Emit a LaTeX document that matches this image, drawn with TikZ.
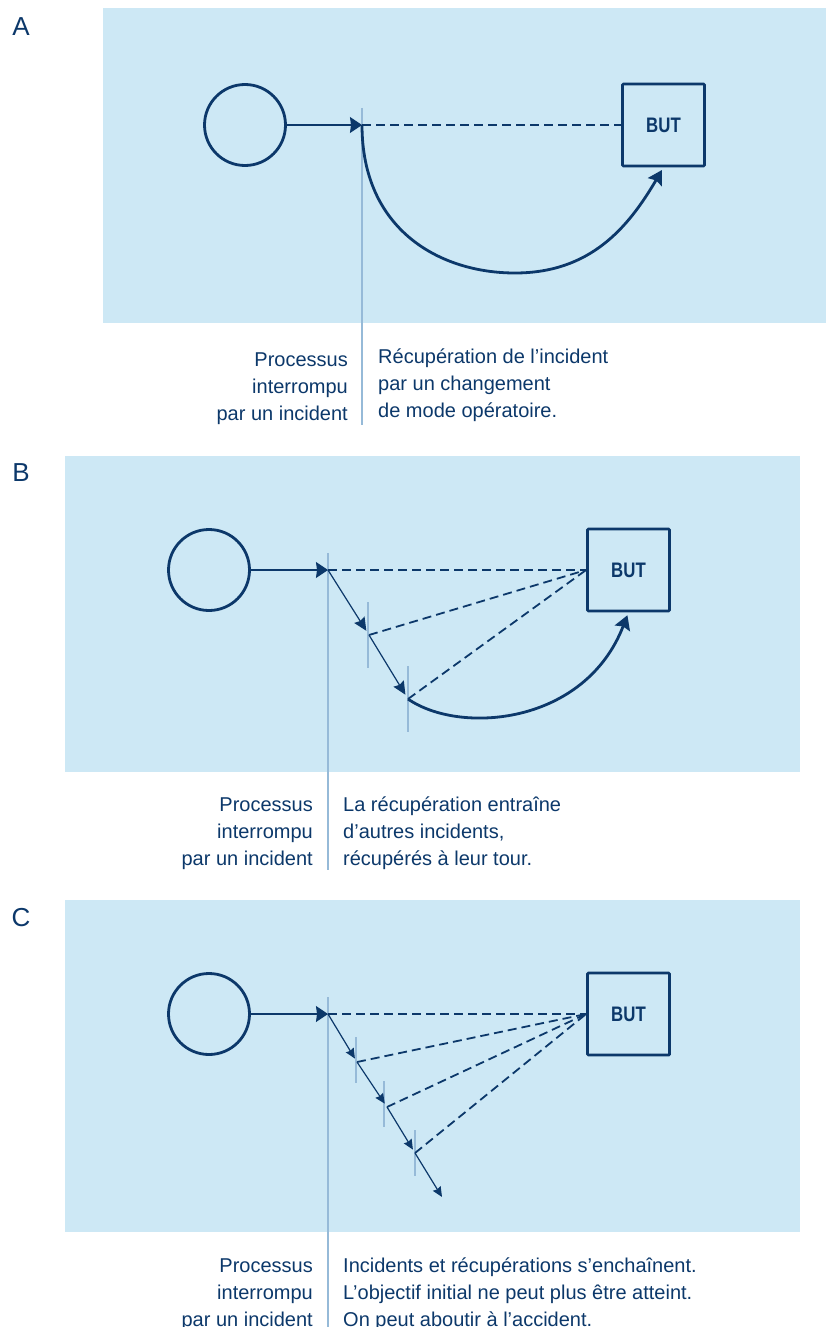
\documentclass[tikz,border=0pt]{standalone}
\usepackage{fontspec}
\setmainfont{Liberation Sans}
\newfontfamily\butfont[FakeStretch=0.8]{Liberation Sans}
\usepackage{tikz}
\usetikzlibrary{arrows.meta,positioning}

\definecolor{navy}{RGB}{12,56,106}
\definecolor{panelblue}{RGB}{205,232,245}
\definecolor{ticklight}{RGB}{150,186,216}

\tikzset{
  panel/.style={fill=panelblue, draw=none},
  panelname/.style={text=navy, font=\fontsize{26}{26}\selectfont},
  startcirc/.style={circle, draw=navy, line width=2.8pt, minimum size=81pt, inner sep=0pt},
  butbox/.style={draw=navy, line width=2.8pt, minimum size=82pt, inner sep=0pt, rounded corners=1pt,
    text=navy, font=\butfont\bfseries\fontsize{21}{21}\selectfont},
  flow/.style={draw=navy, line width=1.2pt, -{Stealth[length=12pt,width=16pt,inset=1pt]}},
  substep/.style={draw=navy, line width=1.2pt, -{Stealth[length=13pt,width=12pt,inset=1.5pt]}},
  smallstep/.style={draw=navy, line width=1.2pt, -{Stealth[length=10pt,width=9pt,inset=1pt]}},
  goalline/.style={draw=navy, line width=1.8pt, dash pattern=on 9pt off 5pt},
  recover/.style={draw=navy, line width=2.8pt, -{Stealth[length=14pt,width=16pt,inset=2pt]}, shorten >=3pt},
  tickline/.style={draw=ticklight, line width=1.1pt},
  caption/.style={text=navy, inner sep=0pt, font=\fontsize{20}{27}\selectfont}
}

\begin{document}
\begin{tikzpicture}[x=1pt, y=-1pt]
\useasboundingbox (0,0) rectangle (826,1327);

% Panel A
\fill[panel] (103,8) rectangle (826,323);
\node[panelname] (labA) at (21,27) {A};
\node[startcirc] (circA) at (245,125) {};
\node[butbox] (butA) at (663.5,125) {BUT};
\coordinate (incA) at (362,125);
\draw[tickline] (362,108) -- (362,425);
\draw[flow] (circA) -- (incA);
\draw[goalline] (incA) -- (butA);
\draw[recover] (incA) .. controls (362,230) and (440,273) .. (515,273)
  .. controls (590,273) and (628,228) .. (butA.south);
\node[caption, anchor=north east, align=right] (whyA) at (348,353) {Processus\\interrompu\\par un incident};
\node[caption, anchor=north west, align=left] (howA) at (378,349) {Récupération de l’incident\\par un changement\\de mode opératoire.};

% Panel B
\fill[panel] (65,456) rectangle (800,772);
\node[panelname] (labB) at (21,473) {B};
\node[startcirc] (circB) at (209,570) {};
\node[butbox] (butB) at (628.5,570) {BUT};
\coordinate (incB) at (328,570);
\coordinate (incB1) at (369,635);
\coordinate (incB2) at (408,699);
\draw[tickline] (328,553) -- (328,870);
\draw[tickline] (368,602) -- (368,668);
\draw[tickline] (408,666) -- (408,732);
\draw[flow] (circB) -- (incB);
\draw[goalline] (incB) -- (butB);
\draw[substep, shorten >=5pt] (incB) -- (incB1);
\draw[substep, shorten >=5pt] (incB1) -- (incB2);
\draw[goalline] (incB1) -- (butB.west);
\draw[goalline] (incB2) -- (butB.west);
\draw[recover] (incB2) .. controls (460,735) and (585,725) .. (butB.south);
\node[caption, anchor=north east, align=right] (whyB) at (313,798) {Processus\\interrompu\\par un incident};
\node[caption, anchor=north west, align=left] (howB) at (343,797) {La récupération entraîne\\d’autres incidents,\\récupérés à leur tour.};

% Panel C
\fill[panel] (65,900) rectangle (800,1232);
\node[panelname] (labC) at (21,918) {C};
\node[startcirc] (circC) at (209,1014) {};
\node[butbox] (butC) at (628.5,1014) {BUT};
\coordinate (incC) at (328,1014);
\coordinate (incC1) at (357,1062);
\coordinate (incC2) at (387,1107);
\coordinate (incC3) at (415,1153);
\coordinate (endC) at (442,1197);
\draw[tickline] (328,997) -- (328,1327);
\foreach \x/\top in {356/1037, 384/1081, 415/1130}
  \draw[tickline] (\x,\top) -- (\x,\top+46);
\draw[flow] (circC) -- (incC);
\draw[goalline] (incC) -- (butC);
\foreach \a/\b in {incC/incC1, incC1/incC2, incC2/incC3}
  \draw[smallstep, shorten >=4pt] (\a) -- (\b);
\draw[smallstep] (incC3) -- (endC);
\foreach \a in {incC1, incC2, incC3}
  \draw[goalline] (\a) -- (butC.west);
\node[caption, anchor=north east, align=right] (whyC) at (313,1259) {Processus\\interrompu\\par un incident};
\node[caption, anchor=north west, align=left] (howC) at (343,1258) {Incidents et récupérations s’enchaînent.\\L’objectif initial ne peut plus être atteint.\\On peut aboutir à l’accident.};

\end{tikzpicture}
\end{document}
